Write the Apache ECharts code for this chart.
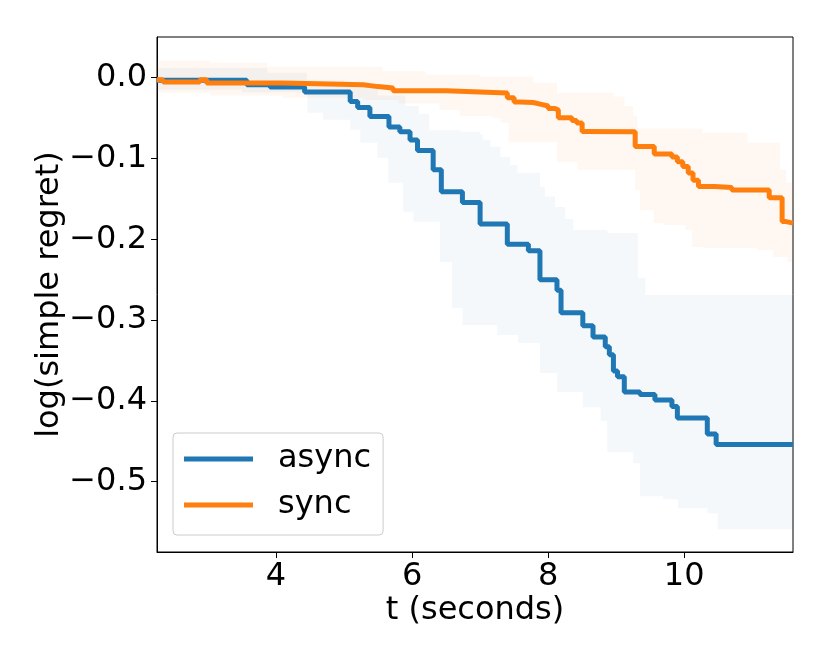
<!DOCTYPE html>
<html>
<head>
<meta charset="utf-8">
<script src="https://cdn.jsdelivr.net/npm/echarts@6/dist/echarts.min.js"></script>
<style>html,body{margin:0;padding:0;background:#fff}#c{width:830px;height:664px}</style>
</head>
<body>
<div id="c"></div>
<script>
// ---- data (t in seconds, value = log simple regret); each point holds until the next one ----
var xTicks = [4, 6, 8, 10];
var yTicks = [-0.5, -0.4, -0.3, -0.2, -0.1, 0.0];
var seriesNames = ['async', 'sync'];

var asyncMean = [
  [2.25,-0.003],[3.57,-0.0087],[3.91,-0.0115],[4.42,-0.0177],[5.09,-0.0294],[5.20,-0.037],
  [5.38,-0.048],[5.66,-0.061],[5.82,-0.067],[5.97,-0.077],[6.08,-0.090],[6.31,-0.114],
  [6.43,-0.141],[6.74,-0.1545],[7.00,-0.181],[7.40,-0.206],[7.71,-0.214],[7.88,-0.250],
  [8.13,-0.263],[8.19,-0.291],[8.51,-0.307],[8.66,-0.321],[8.84,-0.333],[8.90,-0.343],
  [8.96,-0.363],[9.02,-0.370],[9.12,-0.389],[9.35,-0.392],[9.57,-0.399],[9.82,-0.407],
  [9.90,-0.421],[10.34,-0.441],[10.47,-0.454],[11.6,-0.454]
];
var asyncUpper = [
  [2.25,0.012],[3.87,0.006],[4.45,-0.003],[5.0,-0.010],[5.5,-0.022],[5.9,-0.035],
  [6.10,-0.045],[6.25,-0.065],[6.71,-0.0669],[7.00,-0.0706],[7.04,-0.0768],[7.15,-0.0855],
  [7.30,-0.098],[7.44,-0.108],[7.55,-0.1177],[7.88,-0.135],[7.95,-0.147],[8.10,-0.160],
  [8.25,-0.175],[8.37,-0.1884],[8.87,-0.1921],[9.32,-0.2478],[9.43,-0.2689],[11.6,-0.2689]
];
var asyncLower = [
  [2.25,-0.015],[3.5,-0.018],[4.31,-0.0186],[4.46,-0.0434],[4.69,-0.052],[5.09,-0.0644],
  [5.24,-0.0805],[5.49,-0.0991],[5.65,-0.1301],[5.87,-0.166],[6.02,-0.1784],[6.41,-0.228],
  [6.59,-0.285],[6.74,-0.306],[7.25,-0.3185],[7.56,-0.3284],[7.88,-0.3656],[8.13,-0.3891],
  [8.51,-0.4077],[8.77,-0.425],[8.87,-0.4634],[9.25,-0.4771],[9.35,-0.518],[9.69,-0.5217],
  [9.91,-0.5328],[10.34,-0.539],[10.49,-0.5589],[11.6,-0.5589]
];
var syncMean = [
  [2.25,-0.0025],[2.34,-0.0053],[2.88,-0.0025],[2.98,-0.0066],[4.10,-0.0087],[5.28,-0.011],
  [5.50,-0.0128],[5.72,-0.0161],[6.50,-0.0177],[7.00,-0.019],[7.40,-0.0248],[7.50,-0.030],
  [7.59,-0.0306],[7.78,-0.033],[7.90,-0.035],[8.00,-0.038],[8.10,-0.040],[8.15,-0.0496],
  [8.35,-0.053],[8.42,-0.056],[8.50,-0.0665],[8.55,-0.067],[9.28,-0.085],[9.56,-0.0945],
  [9.82,-0.098],[9.90,-0.104],[9.98,-0.110],[10.06,-0.118],[10.13,-0.127],[10.21,-0.1347],
  [10.45,-0.136],[10.70,-0.139],[11.25,-0.1487],[11.44,-0.1781],[11.50,-0.180],[11.6,-0.180]
];
var syncUpper = [
  [2.25,0.0214],[3.03,0.0186],[3.87,0.0136],[5.57,0.008],[6.2,0.004],[7.0,0.0016],
  [7.78,-0.0062],[8.13,-0.0186],[8.96,-0.0235],[9.12,-0.035],[9.25,-0.047],[9.31,-0.062],
  [9.35,-0.0632],[10.27,-0.0682],[10.93,-0.0805],[11.41,-0.114],[11.50,-0.130],[11.6,-0.130]
];
var syncLower = [
  [2.25,-0.0186],[3.03,-0.022],[4.10,-0.0248],[5.28,-0.0273],[5.8,-0.032],[6.4,-0.040],
  [6.7,-0.0471],[7.18,-0.0496],[7.30,-0.0558],[7.42,-0.0793],[8.13,-0.1041],[8.43,-0.114],
  [9.28,-0.1388],[9.35,-0.1636],[9.55,-0.1797],[9.69,-0.1822],[10.02,-0.1884],[10.12,-0.2094],
  [10.28,-0.2107],[11.07,-0.2131],[11.31,-0.2218],[11.52,-0.228],[11.6,-0.228]
];

var BLUE = '#1f77b4', ORANGE = '#ff7f0e';
var FONT = 'DejaVu Sans';
var FS = 32;

function stepPts(arr, api) {
  var pts = [];
  for (var i = 0; i < arr.length; i++) {
    pts.push(api.coord([arr[i][0], arr[i][1]]));
    if (i + 1 < arr.length) pts.push(api.coord([arr[i + 1][0], arr[i][1]]));
  }
  return pts;
}
function bandSeries(name, upper, lower, color) {
  return {
    name: name, type: 'custom', clip: true, silent: true,
    data: [[upper[0][0], upper[0][1]]],
    encode: { x: 0, y: 1 },
    renderItem: function (params, api) {
      var top = stepPts(upper, api);
      var bot = stepPts(lower, api).reverse();
      return { type: 'polygon', shape: { points: top.concat(bot) }, style: { fill: color } };
    }
  };
}

var chart = echarts.init(document.getElementById('c'), null, { renderer: 'canvas' });
chart.setOption({
  animation: false,
  backgroundColor: '#fff',
  grid: { left: 157, right: 37, top: 37, bottom: 112, show: true, borderColor: '#000', borderWidth: 1, backgroundColor: 'transparent' },
  legend: {
    data: seriesNames, orient: 'vertical', left: 173, top: 433,
    icon: 'rect', itemWidth: 69, itemHeight: 5, itemGap: 14,
    padding: [10, 12, 14, 11],
    backgroundColor: 'rgba(255,255,255,0.8)', borderColor: '#cccccc', borderWidth: 1, borderRadius: 4,
    textStyle: { fontFamily: FONT, fontSize: FS, color: '#000', padding: [0, 0, 0, 20] }
  },
  xAxis: {
    type: 'value', min: 2.25, max: 11.6,
    name: 't (seconds)', nameLocation: 'middle', nameGap: 43, nameMoveOverlap: false,
    nameTextStyle: { fontFamily: FONT, fontSize: FS, color: '#000' },
    axisLine: { show: true, onZero: false, lineStyle: { color: '#000', width: 1 } },
    axisTick: { show: true, inside: false, length: 6, lineStyle: { color: '#000' }, customValues: xTicks },
    axisLabel: { fontFamily: FONT, fontSize: FS, color: '#000', margin: 9, customValues: xTicks },
    splitLine: { show: false }
  },
  yAxis: {
    type: 'value', min: -0.587, max: 0.0504,
    name: 'log(simple regret)', nameLocation: 'middle', nameGap: 91, nameRotate: 90, nameMoveOverlap: false,
    nameTextStyle: { fontFamily: FONT, fontSize: FS, color: '#000' },
    axisLine: { show: true, onZero: false, lineStyle: { color: '#000', width: 1 } },
    axisTick: { show: true, inside: false, length: 6, lineStyle: { color: '#000' }, customValues: yTicks },
    axisLabel: {
      fontFamily: FONT, fontSize: FS, color: '#000', margin: 10, customValues: yTicks,
      formatter: function (v) { return v === 0 ? '0.0' : (v < 0 ? '\u2212' : '') + Math.abs(v).toFixed(1); }
    },
    splitLine: { show: false }
  },
  series: [
    bandSeries('async band', asyncUpper, asyncLower, 'rgba(31,119,180,0.05)'),
    { name: 'async', type: 'line', step: 'end', data: asyncMean, showSymbol: false, symbol: 'none',
      lineStyle: { color: BLUE, width: 5 }, itemStyle: { color: BLUE } },
    bandSeries('sync band', syncUpper, syncLower, 'rgba(255,127,14,0.06)'),
    { name: 'sync', type: 'line', step: 'end', data: syncMean, showSymbol: false, symbol: 'none',
      lineStyle: { color: ORANGE, width: 5 }, itemStyle: { color: ORANGE } }
  ]
});
</script>
</body>
</html>
